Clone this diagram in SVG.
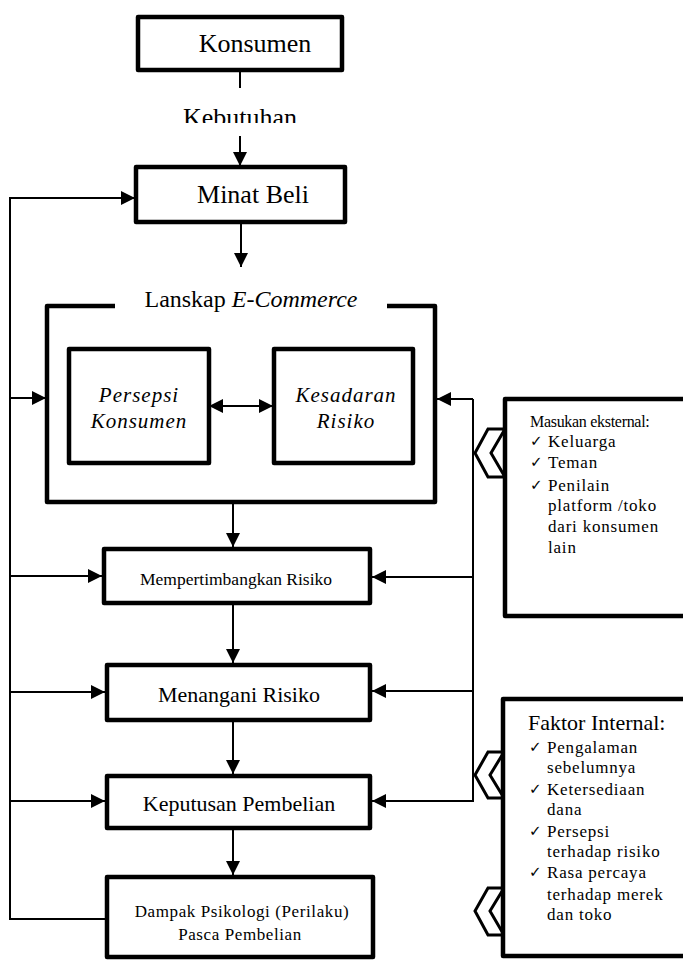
<svg xmlns="http://www.w3.org/2000/svg" width="683" height="961" viewBox="0 0 683 961">
<style>
.box{fill:#fff;stroke:#000;stroke-width:4.5;stroke-linejoin:round}
.frame{fill:none;stroke:#000;stroke-width:4.5;stroke-linejoin:round}
.chev{fill:#fff;stroke:#000;stroke-width:3;stroke-linejoin:miter}
.ln{fill:none;stroke:#000;stroke-width:2}
.arr{marker-end:url(#ah)}
text{font-family:"Liberation Serif","Times New Roman",serif;fill:#000}
.c{text-anchor:middle}
.big{font-size:26px}
.mid{font-size:22px}
.sm{font-size:17px;letter-spacing:0.6px}
.it{font-style:italic;font-size:21px;letter-spacing:1px}
.item{font-size:17px;letter-spacing:0.8px}
.chk{font-family:"DejaVu Sans",sans-serif;font-size:15px}
</style>
<defs>
<marker id="ah" markerUnits="userSpaceOnUse" markerWidth="15" markerHeight="15" refX="14" refY="7" orient="auto-start-reverse">
<path d="M0,0 L14,7 L0,14 z" fill="#000"/>
</marker>
<clipPath id="kclip"><rect x="150" y="90" width="200" height="33"/></clipPath>
</defs>

<g id="connectors">
<path class="ln" d="M240,70 V88"/>
<path class="ln arr" d="M240,136 V166"/>
<path class="ln arr" d="M241,222 V267"/>
<path class="ln arr" d="M107,919 H10 V198 H135"/>
<path class="ln arr" d="M10,398 H46"/>
<path class="ln arr" d="M10,576 H102"/>
<path class="ln arr" d="M10,692 H105"/>
<path class="ln arr" d="M10,801 H105"/>
<path class="ln arr" d="M473,399 V801 H372"/>
<path class="ln arr" d="M473,399 H437"/>
<path class="ln arr" d="M473,577 H372"/>
<path class="ln arr" d="M473,691 H372"/>
<path class="ln arr" d="M233,502 V547"/>
<path class="ln arr" d="M233,603 V663"/>
<path class="ln arr" d="M233,720 V774"/>
<path class="ln arr" d="M233,828 V875"/>
<path class="ln" d="M209,406 H273" marker-start="url(#ah)" marker-end="url(#ah)"/>
</g>

<g id="konsumen">
<rect class="box" x="138" y="17" width="204" height="53"/>
<text class="c big" x="255" y="52">Konsumen</text>
</g>

<g id="kebutuhan">
<text class="c big" x="240" y="126" clip-path="url(#kclip)">Kebutuhan</text>
</g>

<g id="minat-beli">
<rect class="box" x="136" y="167" width="209" height="55"/>
<text class="c big" x="253" y="203">Minat Beli</text>
</g>

<g id="lanskap">
<path class="frame" d="M115,306 H47 V502 H435 V306 H387"/>
<text class="c" x="251" y="307" font-size="24"><tspan>Lanskap </tspan><tspan font-style="italic">E-Commerce</tspan></text>
</g>

<g id="persepsi">
<rect class="box" x="69" y="349" width="140" height="114"/>
<text class="c it" x="139" y="402">Persepsi</text>
<text class="c it" x="139" y="428">Konsumen</text>
</g>

<g id="kesadaran">
<rect class="box" x="274" y="349" width="139" height="114"/>
<text class="c it" x="346" y="402">Kesadaran</text>
<text class="c it" x="346" y="428">Risiko</text>
</g>

<g id="mempertimbangkan">
<rect class="box" x="104" y="549" width="266" height="54"/>
<text class="c" x="236" y="585" font-size="17.5">Mempertimbangkan Risiko</text>
</g>

<g id="menangani">
<rect class="box" x="107" y="665" width="263" height="55"/>
<text class="c mid" x="239" y="702">Menangani Risiko</text>
</g>

<g id="keputusan">
<rect class="box" x="107" y="776" width="263" height="52"/>
<text class="c mid" x="239" y="811">Keputusan Pembelian</text>
</g>

<g id="dampak">
<rect class="box" x="107" y="877" width="266" height="80"/>
<text class="c sm" x="242" y="917">Dampak Psikologi (Perilaku)</text>
<text class="c sm" x="240" y="940">Pasca Pembelian</text>
</g>

<g id="masukan-eksternal">
<polygon class="chev" points="488,429 505,429 491,453 505,477 488,477 475,453"/>
<rect class="box" x="505" y="399" width="200" height="217"/>
<text x="530" y="427" font-size="16" letter-spacing="-0.3">Masukan eksternal:</text>
<text class="chk" x="530" y="446">✓</text><text class="item" x="548" y="447">Keluarga</text>
<text class="chk" x="530" y="467">✓</text><text class="item" x="548" y="468">Teman</text>
<text class="chk" x="530" y="490">✓</text><text class="item" x="548" y="491">Penilain</text>
<text class="item" x="548" y="511">platform /toko</text>
<text class="item" x="548" y="532">dari konsumen</text>
<text class="item" x="548" y="553">lain</text>
</g>

<g id="faktor-internal">
<polygon class="chev" points="488,752 504,752 490,775 504,798 488,798 475,775"/>
<polygon class="chev" points="488,888 504,888 490,911 504,935 488,935 475,911"/>
<rect class="box" x="503" y="699" width="200" height="257"/>
<text x="528" y="730" font-size="22">Faktor Internal:</text>
<text class="chk" x="529" y="752">✓</text><text class="item" x="547" y="753">Pengalaman</text>
<text class="item" x="547" y="773">sebelumnya</text>
<text class="chk" x="529" y="794">✓</text><text class="item" x="547" y="795">Ketersediaan</text>
<text class="item" x="547" y="815">dana</text>
<text class="chk" x="529" y="836">✓</text><text class="item" x="547" y="837">Persepsi</text>
<text class="item" x="547" y="857">terhadap risiko</text>
<text class="chk" x="529" y="877">✓</text><text class="item" x="547" y="878">Rasa percaya</text>
<text class="item" x="547" y="900">terhadap merek</text>
<text class="item" x="547" y="920">dan toko</text>
</g>
</svg>
